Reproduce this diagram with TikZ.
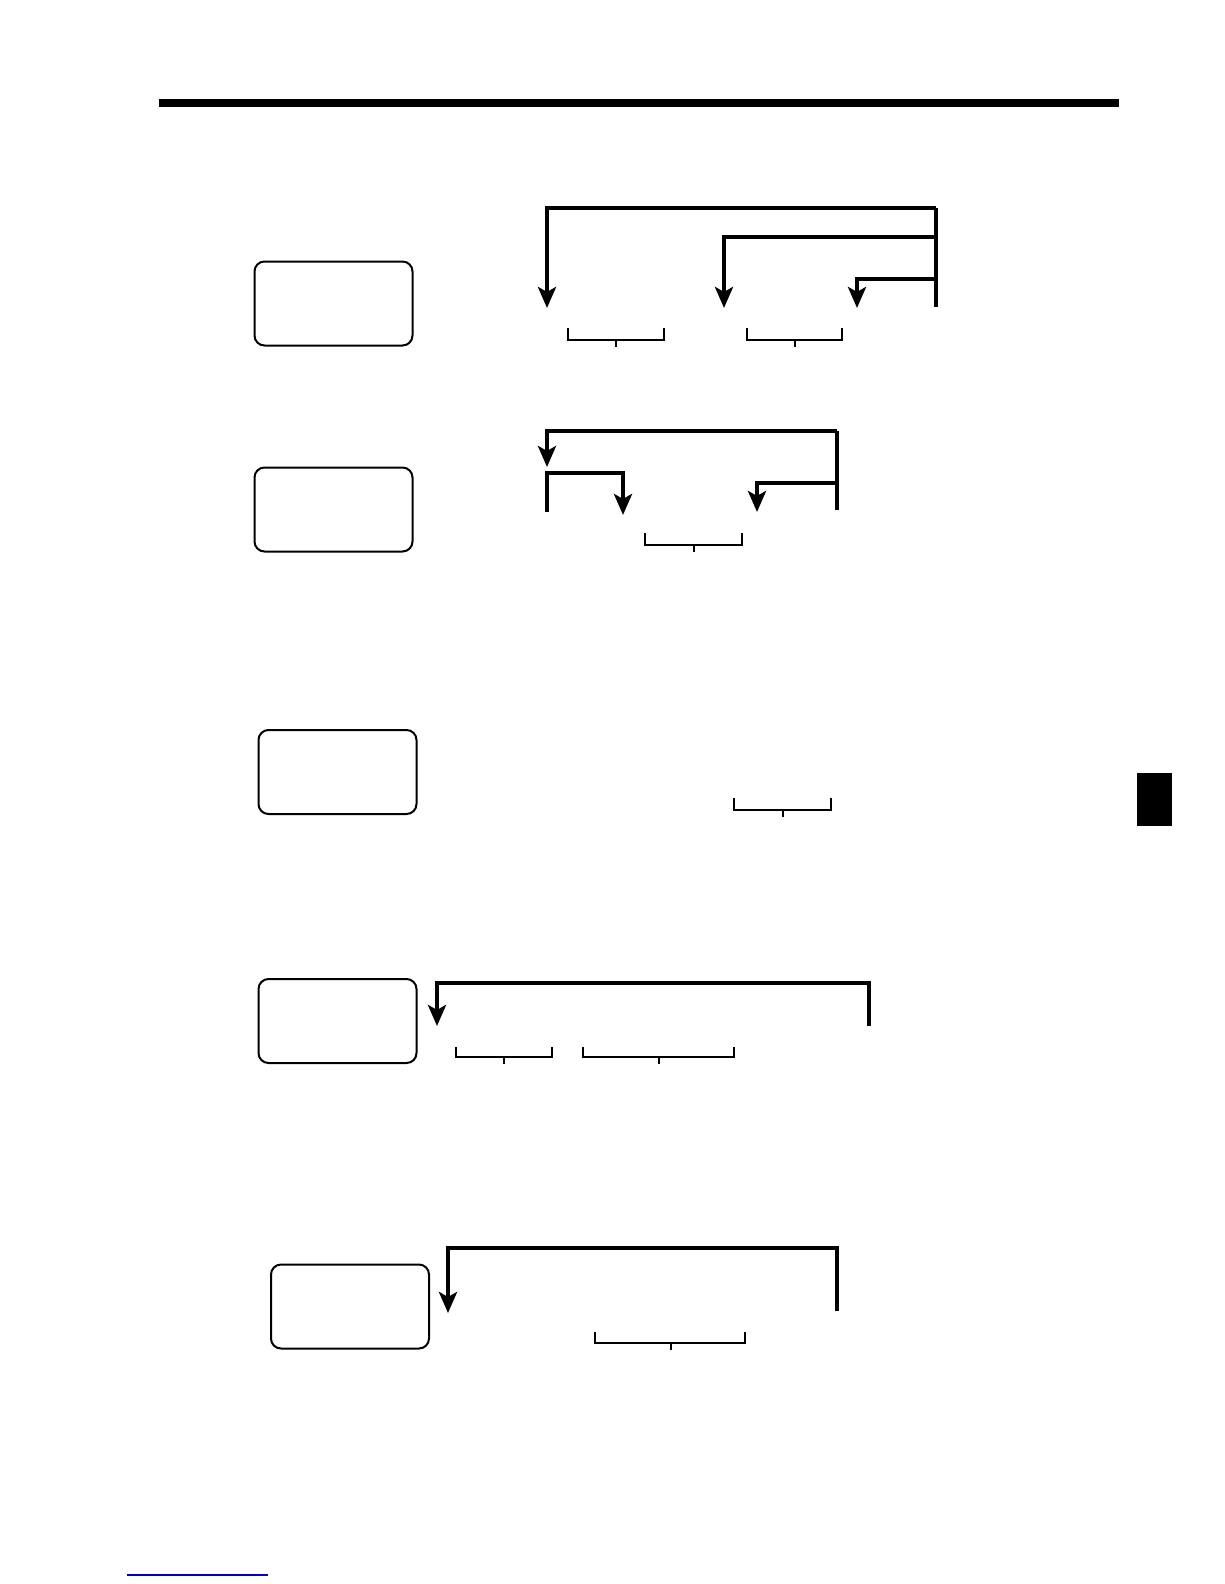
\documentclass[tikz,border=0pt]{standalone}
\usetikzlibrary{arrows.meta}
\begin{document}
\begin{tikzpicture}[x=1pt,y=-1pt,
  box/.style={draw,line width=2pt,rounded corners=10pt,minimum width=158pt,minimum height=84pt,inner sep=0pt},
  flow/.style={line width=4.5pt},
  flowarrow/.style={line width=4.5pt,-{Stealth[length=21pt,width=18pt,inset=5pt]}},
  brk/.style={line width=2pt}]
\useasboundingbox (0,0) rectangle (1224,1584);
% header bar and tab
\fill (159,99) rectangle (1119,107);
\fill (1137,773) rectangle (1172,826);
\draw[blue!80!black,line width=1.5pt] (127,1575) -- (268,1575);

% ---------- section 1 ----------
\node[box] (box1) at (333.5,303.5) {};
\coordinate (s1top) at (936,208);
\coordinate (s1bot) at (936,307);
\coordinate (s1m) at (936,237);
\coordinate (s1n) at (936,279);
\coordinate (s1a) at (547,308);
\coordinate (s1b) at (724,308);
\coordinate (s1c) at (857,308);
\draw[flow] (s1top) -- (s1bot);
\draw[flowarrow] (s1top) -| (s1a);
\draw[flowarrow] (s1m) -| (s1b);
\draw[flowarrow] (s1n) -| (s1c);
\draw[brk] (568,328) |- (664,340) -- (664,328);
\draw[brk] (616,340) -- (616,347);
\draw[brk] (747,328) |- (842,340) -- (842,328);
\draw[brk] (795,340) -- (795,347);

% ---------- section 2 ----------
\node[box] (box2) at (333.5,509.5) {};
\coordinate (s2r) at (837,510);
\coordinate (s2rt) at (837,431);
\coordinate (s2rm) at (837,483);
\coordinate (s2a) at (547,467);
\coordinate (s2l) at (547,512);
\coordinate (s2lt) at (547,473);
\coordinate (s2b) at (623,515);
\coordinate (s2c) at (757,512);
\draw[flow] (s2r) -- (s2rt);
\draw[flowarrow] (s2rt) -| (s2a);
\draw[flowarrow] (s2l) |- (s2lt -| s2b) -- (s2b);
\draw[flowarrow] (s2rm) -| (s2c);
\draw[brk] (645,533) |- (742,545) -- (742,533);
\draw[brk] (694,545) -- (694,552);

% ---------- section 3 ----------
\node[box] (box3) at (337.5,772) {};
\draw[brk] (734,798) |- (831,810) -- (831,798);
\draw[brk] (782.5,810) -- (782.5,817);

% ---------- section 4 ----------
\node[box] (box4) at (337.5,1021) {};
\coordinate (s4r) at (869,1026);
\coordinate (s4rt) at (869,983);
\coordinate (s4a) at (437,1026);
\draw[flowarrow] (s4r) |- (s4a |- s4rt) -- (s4a);
\draw[brk] (456,1047) |- (552,1057) -- (552,1047);
\draw[brk] (504,1057) -- (504,1064);
\draw[brk] (583,1047) |- (734,1057) -- (734,1047);
\draw[brk] (659,1057) -- (659,1064);

% ---------- section 5 ----------
\node[box] (box5) at (350,1306.5) {};
\coordinate (s5r) at (837,1311);
\coordinate (s5rt) at (837,1248);
\coordinate (s5a) at (448,1313);
\draw[flowarrow] (s5r) |- (s5a |- s5rt) -- (s5a);
\draw[brk] (595,1332) |- (745,1343) -- (745,1332);
\draw[brk] (671,1343) -- (671,1350);
\end{tikzpicture}
\end{document}
